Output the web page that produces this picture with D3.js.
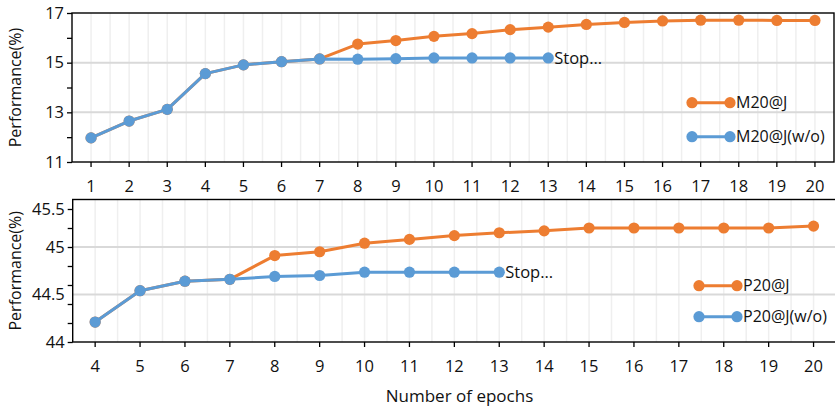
<!DOCTYPE html>
<html>
<head>
<meta charset="utf-8">
<script src="https://cdn.jsdelivr.net/npm/d3@7"></script>
<style>
  html, body { margin: 0; padding: 0; background: #fff; }
  svg { display: block; font-family: "Open Sans", sans-serif; }
</style>
</head>
<body>
<svg id="chart" width="835" height="407"></svg>
<script>
// top panel: M20@J
const epochsTop = [1, 2, 3, 4, 5, 6, 7, 8, 9, 10, 11, 12, 13, 14, 15, 16, 17, 18, 19, 20];
const m20J = [11.97, 12.65, 13.12, 14.56, 14.91, 15.04, 15.15, 15.75, 15.89, 16.06,
  16.17, 16.33, 16.43, 16.54, 16.62, 16.68, 16.71, 16.71, 16.70, 16.70];
const m20JWo = [11.97, 12.65, 13.12, 14.56, 14.91, 15.04, 15.15, 15.14, 15.16, 15.19,
  15.19, 15.19, 15.19];
const topYTicks = [11, 12, 13, 14, 15, 16, 17];
const topYLabels = [11, 13, 15, 17];
const topGrid = [13, 15];

// bottom panel: P20@J
const epochsBottom = [4, 5, 6, 7, 8, 9, 10, 11, 12, 13, 14, 15, 16, 17, 18, 19, 20];
const p20J = [44.21, 44.54, 44.64, 44.66, 44.91, 44.95, 45.04, 45.08, 45.12, 45.15,
  45.17, 45.20, 45.20, 45.20, 45.20, 45.20, 45.22];
const p20JWo = [44.21, 44.54, 44.64, 44.66, 44.69, 44.70, 44.735, 44.735, 44.735, 44.735];
const bottomYTicks = [44, 44.2, 44.4, 44.6, 44.8, 45, 45.2, 45.4];
const bottomYLabelPos = [44, 44.5, 45, 45.4];
const bottomYLabels = ["44", "44.5", "45", "45.5"];
const bottomGrid = [44.5, 45];

const orange = "#ED7D31";
const blue = "#5B9BD5";
const textColor = "#111";

const svg = d3.select("#chart");

const drawPanel = cfg => {
  const g = svg.append("g");

  const x = d3.scaleBand().domain(cfg.epochs).range([cfg.left, cfg.right]);
  const cx = d => x(d) + x.bandwidth() / 2;
  const y = d3.scaleLinear().domain(cfg.yDomain).range([cfg.bottom, cfg.top]);

  // light vertical grid, at every half band
  const half = [];
  cfg.epochs.forEach((e, i) => {
    if (i > 0) half.push(x(e));
    half.push(cx(e));
  });
  g.selectAll(".vgrid").data(half).enter().append("line")
    .attr("x1", d => d).attr("x2", d => d)
    .attr("y1", cfg.top).attr("y2", cfg.bottom)
    .attr("stroke", "#efefef").attr("stroke-width", 1.5);

  g.selectAll(".hgrid").data(cfg.grid).enter().append("line")
    .attr("x1", cfg.left).attr("x2", cfg.right)
    .attr("y1", d => y(d)).attr("y2", d => y(d))
    .attr("stroke", "#d9d9d9").attr("stroke-width", 2);

  // y axis: tick marks then labels
  g.append("g")
    .attr("transform", `translate(${cfg.left},0)`)
    .call(d3.axisLeft(y).tickValues(cfg.yTicks).tickSize(5).tickFormat(""))
    .call(a => a.select(".domain").remove())
    .selectAll("line").attr("stroke", "#000").attr("stroke-width", 1.3);

  g.append("g")
    .attr("transform", `translate(${cfg.left},0)`)
    .call(d3.axisLeft(y).tickValues(cfg.yLabelPos).tickSize(0).tickPadding(8)
      .tickFormat((d, i) => cfg.yLabels[i]))
    .call(a => a.select(".domain").remove())
    .selectAll("text")
    .attr("font-size", 16.5).attr("fill", textColor)
    .attr("font-family", "Open Sans");

  // x axis
  const xa = g.append("g")
    .attr("transform", `translate(0,${cfg.bottom})`)
    .call(d3.axisBottom(x).tickSize(5).tickPadding(13));
  xa.select(".domain").remove();
  xa.selectAll("line").attr("stroke", "#000").attr("stroke-width", 1.3);
  xa.selectAll("text").attr("font-size", 16.5).attr("fill", textColor)
    .attr("font-family", "Open Sans");

  // frame
  g.append("rect")
    .attr("x", cfg.left).attr("y", cfg.top)
    .attr("width", cfg.right - cfg.left).attr("height", cfg.bottom - cfg.top)
    .attr("fill", "none").attr("stroke", "#000").attr("stroke-width", 1.4);

  g.append("text")
    .attr("transform", `translate(15,${(cfg.top + cfg.bottom) / 2}) rotate(-90)`)
    .attr("text-anchor", "middle").attr("dy", "0.35em")
    .attr("font-size", 16).attr("fill", textColor)
    .text("Performance(%)");

  const line = d3.line().x(d => cx(d.e)).y(d => y(d.v));

  const series = [
    { color: orange, values: cfg.withJ },
    { color: blue, values: cfg.without }
  ];

  series.forEach(s => {
    const pts = s.values.map((v, i) => ({ e: cfg.epochs[i], v: v }));
    g.append("path").datum(pts)
      .attr("fill", "none").attr("stroke", s.color)
      .attr("stroke-width", 3).attr("stroke-linejoin", "round")
      .attr("d", line);
    g.selectAll(null).data(pts).enter().append("circle")
      .attr("cx", d => cx(d.e)).attr("cy", d => y(d.v))
      .attr("r", 5.6).attr("fill", s.color);
  });

  const lastI = cfg.without.length - 1;
  g.append("text")
    .attr("x", cx(cfg.epochs[lastI]) + 6)
    .attr("y", y(cfg.without[lastI]))
    .attr("dy", "0.35em")
    .attr("font-size", 16.5).attr("fill", textColor)
    .text("Stop...");

  // legend
  cfg.legend.forEach((item, i) => {
    const ly = cfg.legendY[i];
    const lg = g.append("g");
    lg.append("line")
      .attr("x1", cfg.legendX).attr("x2", cfg.legendX + 38)
      .attr("y1", ly).attr("y2", ly)
      .attr("stroke", item.color).attr("stroke-width", 3);
    [cfg.legendX, cfg.legendX + 38].forEach(px => {
      lg.append("circle").attr("cx", px).attr("cy", ly).attr("r", 5.6)
        .attr("fill", item.color);
    });
    lg.append("text")
      .attr("x", cfg.legendX + 44).attr("y", ly).attr("dy", "0.35em")
      .attr("font-size", 16).attr("fill", textColor)
      .text(item.name);
  });
};

drawPanel({
  epochs: epochsTop, withJ: m20J, without: m20JWo,
  yDomain: [11, 17], yTicks: topYTicks, yLabelPos: topYLabels,
  yLabels: topYLabels.map(String), grid: topGrid,
  left: 72, right: 834, top: 13, bottom: 162,
  legend: [{ name: "M20@J", color: orange }, { name: "M20@J(w/o)", color: blue }],
  legendX: 692, legendY: [102.7, 136.7]
});

drawPanel({
  epochs: epochsBottom, withJ: p20J, without: p20JWo,
  yDomain: [44, 45.5], yTicks: bottomYTicks, yLabelPos: bottomYLabelPos,
  yLabels: bottomYLabels, grid: bottomGrid,
  left: 72.7, right: 836, top: 199.5, bottom: 342,
  legend: [{ name: "P20@J", color: orange }, { name: "P20@J(w/o)", color: blue }],
  legendX: 699, legendY: [285.7, 316.7]
});

svg.append("text")
  .attr("x", 459.5).attr("y", 402)
  .attr("text-anchor", "middle")
  .attr("font-size", 17).attr("fill", textColor)
  .text("Number of epochs");
</script>
</body>
</html>
